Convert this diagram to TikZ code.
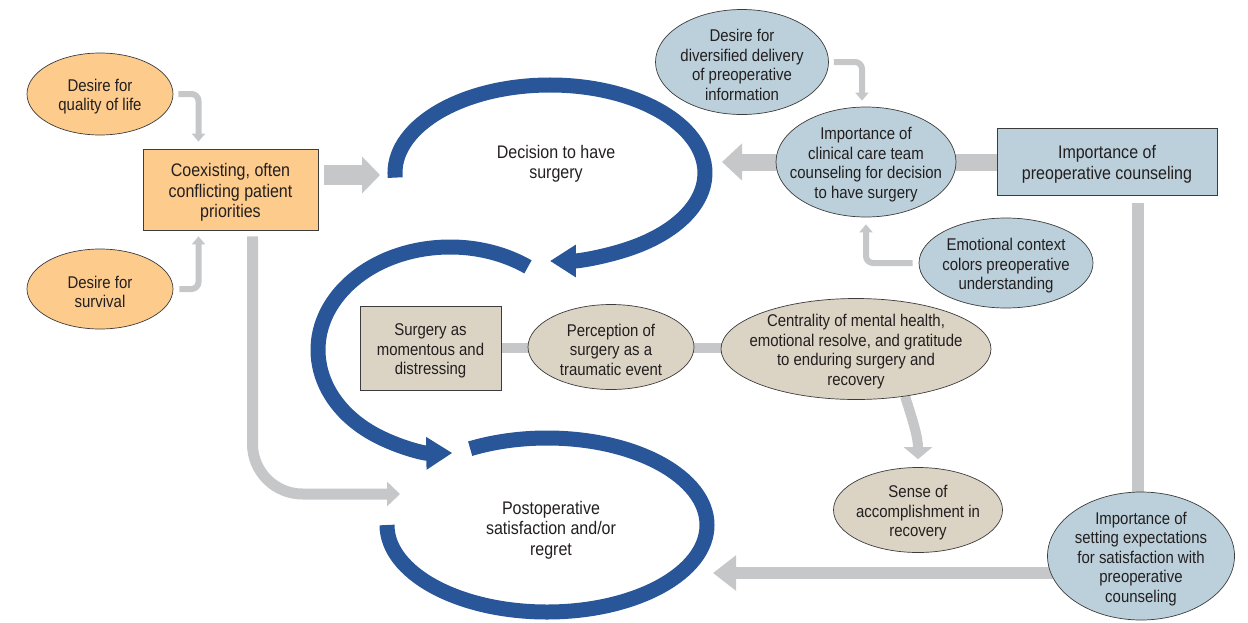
\documentclass[tikz,border=0pt]{standalone}
\usepackage{fontspec}
\setmainfont{Liberation Sans}[FakeStretch=0.88]
\usetikzlibrary{shapes.geometric,arrows.meta}
\definecolor{orfill}{RGB}{253,203,139}
\definecolor{bgfill}{RGB}{187,208,218}
\definecolor{tanfill}{RGB}{219,211,196}
\definecolor{bluec}{RGB}{40,86,153}
\definecolor{grayc}{RGB}{198,199,201}
\definecolor{edge}{RGB}{60,60,60}
\definecolor{txt}{RGB}{35,31,32}
\newcommand{\mystr}{\rule{0pt}{18pt}}
\newcommand{\mybstr}{\rule{0pt}{19pt}}
\pgfdeclarelayer{bg}
\pgfsetlayers{bg,main}
\begin{document}
\begin{tikzpicture}[x=1pt,y=-1pt,
  every node/.style={text=txt, align=center},
  lbl/.style={font=\fontsize{17}{19.5}\selectfont},
  big/.style={font=\fontsize{18.2}{20.5}\selectfont},
  ell/.style={ellipse, draw=edge, line width=0.7pt, inner sep=-15pt, lbl},
  rbox/.style={rectangle, draw=edge, line width=0.7pt, inner sep=2pt},
  bluearc/.style={draw=bluec, line width=15pt},
  gthin/.style={draw=grayc, line width=6pt, rounded corners=7pt, -{Triangle[length=8pt,width=13pt]}},
  gmid/.style={draw=grayc, line width=11pt, rounded corners=50pt, -{Triangle[length=13pt,width=24pt]}},
  gbig/.style={draw=grayc, line width=20pt, -{Triangle[length=18pt,width=36pt]}},
  gclin/.style={draw=grayc, line width=17pt, -{Triangle[length=20pt,width=36pt]}},
  gset/.style={draw=grayc, line width=12pt, -{Triangle[length=23pt,width=34pt]}},
  gvert/.style={draw=grayc, line width=12pt},
  gbar/.style={draw=grayc, line width=10pt},
  gcurve/.style={draw=grayc, line width=10pt, -{Triangle[length=12pt,width=28pt]}}
]
\useasboundingbox (0,0) rectangle (1248,622);

% blue loops
\draw[bluearc, -{Triangle[length=26pt,width=31pt]}] (395.2,177.6) arc[start angle=177, end angle=450, x radius=155, y radius=88];
\draw[bluearc, -{Triangle[length=26pt,width=31pt]}] (527.96,266.88) arc[start angle=-53.8, end angle=-271, x radius=132, y radius=103];
\draw[bluearc] (387,525) arc[start angle=180, end angle=-118.7, x radius=160, y radius=87];

% orange
\node[ell, fill=orfill, minimum width=146pt, minimum height=82pt] (qol) at (100,94) {\mystr Desire for\\quality of life};
\node[ell, fill=orfill, minimum width=146pt, minimum height=80pt] (surv) at (100,289) {\mystr Desire for\\survival};
\node[rbox, fill=orfill, minimum width=175pt, minimum height=81pt, big] (coex) at (230.5,189.5) {\mybstr Coexisting, often\\conflicting patient\\priorities};

% blue-gray
\node[ell, fill=bgfill, minimum width=173pt, minimum height=105pt] (div) at (742,62) {\mystr Desire for\\diversified delivery\\of preoperative\\information};
\node[ell, fill=bgfill, minimum width=180pt, minimum height=110pt] (clin) at (866,162) {\mystr Importance of\\clinical care team\\counseling for decision\\to have surgery};
\node[rbox, fill=bgfill, minimum width=220pt, minimum height=67pt, big] (preop) at (1107,161.5) {\mybstr Importance of\\preoperative counseling};
\node[ell, fill=bgfill, minimum width=174pt, minimum height=90pt] (emo) at (1006,263) {\mystr Emotional context\\colors preoperative\\understanding};
\node[ell, fill=bgfill, minimum width=187pt, minimum height=128pt] (sett) at (1141,556) {\mystr Importance of\\setting expectations\\for satisfaction with\\preoperative\\counseling};

% tan
\node[rbox, fill=tanfill, minimum width=141pt, minimum height=84pt, lbl] (surg) at (430.5,348) {\mystr Surgery as\\momentous and\\distressing};
\node[ell, fill=tanfill, minimum width=166pt, minimum height=85pt] (perc) at (611,347) {\mystr Perception of\\surgery as a\\traumatic event};
\node[ell, fill=tanfill, minimum width=270pt, minimum height=101pt] (cent) at (856,349) {\mystr Centrality of mental health,\\emotional resolve, and gratitude\\to enduring surgery and\\recovery};
\node[ell, fill=tanfill, minimum width=169pt, minimum height=85pt] (sense) at (918,510) {\mystr Sense of\\accomplishment in\\recovery};

% loop labels
\node[big] (dec) at (556,161) {\mybstr Decision to have\\surgery};
\node[big] (post) at (551,527) {\mybstr Postoperative\\satisfaction and/or\\regret};

\coordinate (decin) at (380,175);
\coordinate (postin) at (400,494);
\coordinate (decright) at (722,162);
\coordinate (postright) at (713,573);

\begin{pgfonlayer}{bg}
\draw[gthin] ([xshift=5pt]qol.east) -| ([xshift=-32pt,yshift=7pt]coex.north);
\draw[gthin] ([xshift=6pt]surv.east) -| ([xshift=-32pt,yshift=-6pt]coex.south);
\draw[gbig] ([xshift=6pt]coex.east |- decin) -- (decin);
\draw[gmid] ([xshift=22pt,yshift=-6pt]coex.south) |- (postin);
\draw[gthin] ([xshift=5pt]div.east) -| ([xshift=-4pt,yshift=6pt]clin.north);
\draw[gthin] ([xshift=-6pt]emo.west) -| ([yshift=-7pt]clin.south);
\draw[gclin] (preop.west |- decright) -- (decright);
\draw[gvert] ([xshift=31pt,yshift=-8pt]preop.south) -- ([xshift=31pt]preop.south |- sett.center);
\draw[gset] (sett.center |- postright) -- (postright);
\draw[gbar] (surg.center) -- (surg.center -| cent.center);
\draw[gcurve] (cent.-44) .. controls +(8,25) and +(0,-22) .. ([yshift=8pt]sense.north);
\end{pgfonlayer}
\end{tikzpicture}
\end{document}
